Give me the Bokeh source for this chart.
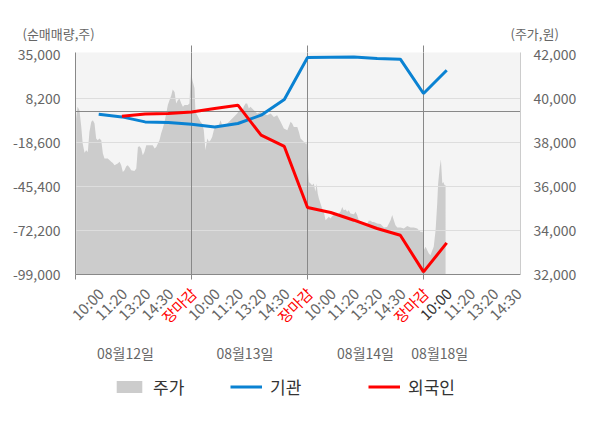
import math
from bokeh.plotting import figure
from bokeh.layouts import column
from bokeh.models import (Range1d, LinearAxis, FixedTicker, NumeralTickFormatter, Legend, LegendItem)
from bokeh.core.properties import value
from bokeh.embed import file_html
from bokeh.resources import INLINE

FONT = "Noto Sans CJK KR"
NAN = float("nan")

# ---- data (x in session slots: each day = 5 slots) ----
price_x = [0.03, 0.09, 0.17, 0.25, 0.31, 0.39, 0.46, 0.53, 0.60, 0.68, 0.75, 0.82, 0.89, 0.96, 1.03, 1.11,
           1.18, 1.25, 1.39, 1.54, 1.61, 1.68, 1.82, 1.90, 1.97, 2.04, 2.11, 2.19, 2.25, 2.33, 2.40, 2.54,
           2.62, 2.69, 2.76, 2.83, 2.90, 2.97, 3.05, 3.19, 3.33, 3.41, 3.48, 3.55, 3.62, 3.69, 3.76, 3.84,
           3.91, 3.98, 4.05, 4.13, 4.19, 4.27, 4.34, 4.41, 4.48, 4.56, 4.63, 4.70, 4.84, 4.91, 4.98,
           5.04, 5.13, 5.17, 5.25, 5.39, 5.46, 5.53, 5.60, 5.68, 5.75, 5.82, 5.89, 5.96, 6.03, 6.18, 6.25,
           6.32, 6.39, 6.54, 6.68, 6.82, 6.97, 7.11, 7.18, 7.25, 7.33, 7.40, 7.47, 7.54, 7.69, 7.83, 7.97,
           8.12, 8.26, 8.41, 8.55, 8.69, 8.84, 8.98, 9.13, 9.27, 9.34, 9.41, 9.56, 9.63, 9.70, 9.84, 9.91, 9.97,
           10.01, 10.06, 10.13, 10.20, 10.27, 10.34, 10.39, 10.44, 10.49, 10.56, 10.63, 10.70, 10.78, 10.85,
           10.92, 10.99, 11.06, 11.13, 11.21, 11.28, 11.35, 11.42, 11.50, 11.56, 11.64, 11.71, 11.78, 11.85,
           12.00, 12.07, 12.14, 12.21, 12.28, 12.43, 12.57, 12.64, 12.72, 12.79, 12.86, 13.00, 13.15, 13.29,
           13.43, 13.58, 13.65, 13.72, 13.79, 13.87, 14.01, 14.15, 14.30, 14.44, 14.58, 14.73, 14.80, 14.87, 14.97,
           15.01, 15.09, 15.16, 15.23, 15.30, 15.38, 15.44, 15.52, 15.59, 15.63, 15.70, 15.75, 15.81, 15.85,
           15.91, 15.95]
price = [39100, 39620, 39470, 38710, 37950, 37530, 37650, 37570, 38480, 38940, 39010, 38860, 38180, 38100, 38180, 38100,
         37500, 37270, 37270, 37120, 37070, 36970, 37050, 37120, 36970, 36660, 36740, 36920, 36970, 36860, 36740, 36710,
         36820, 37800, 37830, 37730, 37420, 37570, 37880, 37880, 37880, 37730, 37800, 37950, 38100, 38410, 38640, 38940,
         39320, 39700, 39920, 40150, 40410, 40300, 39770, 39920, 40000, 39770, 39620, 39700, 39700, 39770, 41200,
         40830, 40470, 39390, 39240, 38940, 38860, 38560, 37650, 38180, 38030, 38100, 38250, 38560, 38710, 38790, 39010,
         38790, 38790, 38860, 39010, 39160, 39320, 39550, 39390, 39620, 39770, 39770, 39550, 39620, 39470, 39320, 39390,
         39320, 39240, 39320, 39160, 39240, 38940, 38640, 38560, 38940, 38860, 38710, 38710, 38480, 38180, 38030, 37950, 37950,
         37050, 36210, 36140, 36060, 36140, 35760, 36140, 35680, 35460, 35230, 35000, 34850, 34470, 34550,
         34620, 34550, 34650, 34700, 34770, 34700, 34770, 34850, 35070, 34920, 34950, 34850, 34920, 34770,
         34740, 34850, 34700, 34470, 34420, 34320, 34290, 34440, 34440, 34390, 34390, 34320, 34290, 34140,
         34160, 34470, 34700, 34470, 34240, 34140, 34140, 34090, 34200, 34140, 34140, 34090, 34010, 33940, 33940,
         33100, 33260, 33100, 32950, 32880, 33100, 33260, 34010, 35230, 36140, 36890, 37230, 36140, 36210,
         36060, 36060]

inst_x = [1, 2, 3, 4, 5, 6, 7, 8, 9, 10, 11, 12, 13, 14, 15, 16]
inst = [-1360, -3010, -6050, -6420, -7450, -9100, -7030, -1970, 7590, 33170, 33360, 33540, 32560, 32140, 11250, 25440]
foreign_x = [2, 3, 4, 5, 6, 7, 8, 9, 10, 11, 12, 13, 14, 15, 16]
foreign = [-2580, -1280, -940, -10, 2110, 4120, -14150, -21000, -58190, -61240, -65930, -70980, -75060, -97420, -79750]

left_ticks = [-99000, -72200, -45400, -18600, 8200, 35000]
right_ticks = [32000, 34000, 36000, 38000, 40000, 42000]
time_labels = ["10:00", "11:20", "13:20", "14:30", "장마감"]
day_labels = ["08월12일", "08월13일", "08월14일", "08월18일"]
day_bounds = [0, 5, 10, 15]
series_names = ["주가", "기관", "외국인"]

# ---- layout / style ----
LEFT, RIGHT, FRAME_W = 75, 72, 445
W = LEFT + FRAME_W + RIGHT
X_END = 19.18
SLOT_PX = FRAME_W / X_END
TOP_H, MAIN_H, BOT_H = 44, 239, 135
GRAY_TXT = "#666666"
BLUE = "#0a82d2"
RED = "#ff0000"
AREA = "#cccccc"


def px2slot(px):
    return (px - LEFT) / SLOT_PX


def bare(height):
    f = figure(width=W, height=height, output_backend="svg", toolbar_location=None,
               x_range=Range1d(px2slot(0), px2slot(W)), y_range=Range1d(0, height),
               x_axis_type=None, y_axis_type=None, min_border=0, frame_align=False,
               outline_line_color=None, background_fill_color="white", border_fill_color="white")
    return f


# ---- top strip: axis titles ----
ptop = bare(TOP_H)
ptop.text(x=[px2slot(22), px2slot(510)], y=[11, 11], text=["(순매매량,주)", "(주가,원)"],
          text_align="left", text_baseline="middle", text_font=value(FONT),
          text_font_size="13px", text_color=GRAY_TXT)

# ---- main chart ----
p = figure(width=W, height=MAIN_H, output_backend="svg", toolbar_location=None,
           x_range=Range1d(0, X_END), y_range=Range1d(-99000, 36218),
           min_border_left=LEFT, min_border_right=RIGHT, min_border_top=8, min_border_bottom=9,
           background_fill_color="#f4f4f4", border_fill_color="white", outline_line_color=None)
p.extra_y_ranges = {"price": Range1d(32000, 42091)}
p.xgrid.visible = False
p.ygrid.visible = False

# bottom axis: only (unlabelled) minor tick marks at day boundaries
xa = p.xaxis[0]
xa.ticker = FixedTicker(ticks=[], minor_ticks=day_bounds)
xa.major_tick_line_color = None
xa.minor_tick_out = 5
xa.minor_tick_in = 0
xa.minor_tick_line_color = "#888888"
xa.axis_line_color = "#888888"

# top: short extensions of the day separators
top = LinearAxis(ticker=FixedTicker(ticks=[], minor_ticks=day_bounds[1:]), minor_tick_out=7, minor_tick_in=0,
                 axis_line_color=None, major_tick_line_color=None, minor_tick_line_color="#888888")
p.add_layout(top, "above")

ya = p.yaxis[0]
ya.ticker = FixedTicker(ticks=left_ticks)
ya.formatter = NumeralTickFormatter(format="0,0")
ya.major_tick_line_color = None
ya.minor_tick_line_color = None
ya.axis_line_color = "#888888"
ya.major_label_text_font = FONT
ya.major_label_text_font_size = "14px"
ya.major_label_text_color = GRAY_TXT
ya.major_label_standoff = 9

ra = LinearAxis(y_range_name="price", ticker=FixedTicker(ticks=right_ticks),
                formatter=NumeralTickFormatter(format="0,0"),
                major_tick_line_color=None, minor_tick_line_color=None, axis_line_color="#cccccc",
                major_label_text_font=FONT, major_label_text_font_size="14px",
                major_label_text_color=GRAY_TXT, major_label_standoff=7)
p.add_layout(ra, "right")

p.varea(x=price_x, y1=min(right_ticks), y2=price, fill_color=AREA, y_range_name="price")
p.hspan(y=left_ticks[1:-1], line_color="#dddddd", line_width=1)
p.hspan(y=[0], line_color="#888888", line_width=1)
p.vspan(x=day_bounds[1:], line_color="#888888", line_width=1)
p.line(inst_x, inst, line_color=BLUE, line_width=3)
p.line(foreign_x, foreign, line_color=RED, line_width=3)

# ---- bottom strip: time labels, dates, legend ----
pbot = bare(BOT_H)
lx, lt, lc = [], [], []
for d in range(len(day_bounds)):
    for k, lab in enumerate(time_labels):
        pos = day_bounds[d] + k + 1
        if pos <= X_END:
            lx.append(pos + 0.08)
            lt.append(lab)
            if lab == "장마감":
                lc.append(RED)
            elif d == len(day_bounds) - 1 and k == 0:
                lc.append("#333333")
            else:
                lc.append(GRAY_TXT)
pbot.text(x=lx, y=[128] * len(lx), text=lt, angle=math.pi / 4, text_align="right",
          text_baseline="middle", text_color=lc, text_font=value(FONT), text_font_size="15px")

day_label_x = [2.15, 7.3, 12.5, 15.7]
pbot.text(x=day_label_x, y=[66] * len(day_label_x), text=day_labels, text_align="center",
          text_baseline="middle", text_font=value(FONT), text_font_size="14px", text_color=GRAY_TXT)

# legend (renderers without visible data carry the swatch styles)
r_area = pbot.varea(x=[NAN], y1=[NAN], y2=[NAN], fill_color=AREA)
r_inst = pbot.line(x=[NAN], y=[NAN], line_color=BLUE, line_width=3)
r_for = pbot.line(x=[NAN], y=[NAN], line_color=RED, line_width=3)
legend_px = [113, 230, 368]
for lpx, lab, r in zip(legend_px, series_names, [r_area, r_inst, r_for]):
    lg = Legend(items=[LegendItem(label=lab, renderers=[r])], location=(lpx, 19),
                orientation="horizontal", border_line_color=None, background_fill_alpha=0,
                padding=0, margin=0, glyph_width=32, glyph_height=15, label_height=15,
                label_standoff=8, label_text_font=FONT, label_text_font_size="17px",
                label_text_color="#333333")
    pbot.add_layout(lg)

layout = column(ptop, p, pbot, spacing=0)
open("out.html", "w").write(file_html(layout, INLINE))
